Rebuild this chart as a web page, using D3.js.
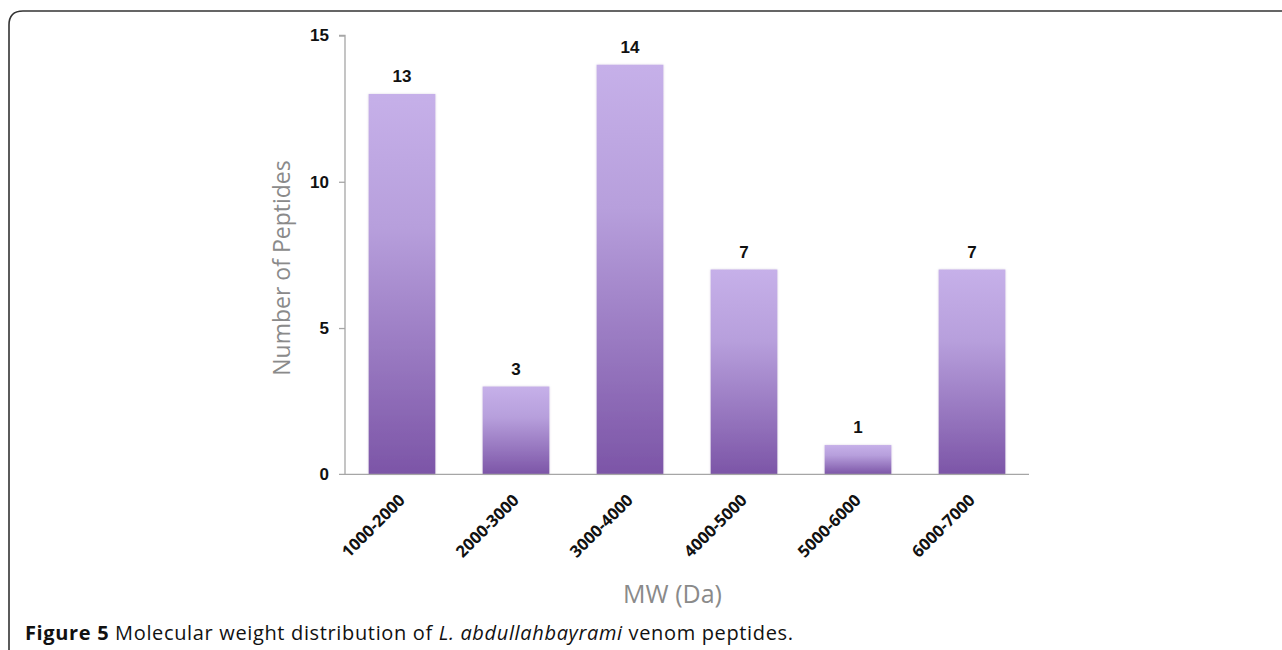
<!DOCTYPE html>
<html>
<head>
<meta charset="utf-8">
<script src="https://cdn.jsdelivr.net/npm/d3@7"></script>
<style>
  html, body { margin: 0; padding: 0; background: #fff; }
  svg { display: block; }
</style>
</head>
<body>
<svg id="chart" width="1282" height="650"></svg>
<script>
const categories = ["1000-2000", "2000-3000", "3000-4000", "4000-5000", "5000-6000", "6000-7000"];
const peptideCounts = [13, 3, 14, 7, 1, 7];
const yTicks = [0, 5, 10, 15];
const yTitle = "Number of Peptides";
const xTitle = "MW (Da)";

const svg = d3.select("#chart");

// Figure frame (rounded corner, open on right and bottom)
svg.append("path")
  .attr("d", "M9,660 L9,25 Q9,11 23,11 L1300,11")
  .attr("fill", "none")
  .attr("stroke", "#333")
  .attr("stroke-width", 1.6);

const plotLeft = 345, plotRight = 1029, plotTop = 35.5;
const y0 = 474.3;

const x = d3.scaleBand().domain(categories).range([plotLeft, plotRight]).paddingInner(0.415).paddingOuter(0.2075);
const y = d3.scaleLinear().domain([0, 15]).range([y0, plotTop]);

// gradient
const defs = svg.append("defs");
const grad = defs.append("linearGradient")
  .attr("id", "barGrad").attr("x1", 0).attr("y1", 0).attr("x2", 0).attr("y2", 1);
grad.append("stop").attr("offset", "0%").attr("stop-color", "#c6b0e9");
grad.append("stop").attr("offset", "35%").attr("stop-color", "#b79fdc");
grad.append("stop").attr("offset", "100%").attr("stop-color", "#7c55a7");

const shadow = defs.append("filter").attr("id", "glow").attr("x", "-10%").attr("y", "-10%").attr("width", "120%").attr("height", "120%");
shadow.append("feGaussianBlur").attr("in", "SourceAlpha").attr("stdDeviation", 1.2).attr("result", "b");
shadow.append("feFlood").attr("flood-color", "#b8a8c8").attr("flood-opacity", 0.5);
shadow.append("feComposite").attr("in2", "b").attr("operator", "in").attr("result", "s");
const fm = shadow.append("feMerge");
fm.append("feMergeNode").attr("in", "s");
fm.append("feMergeNode").attr("in", "SourceGraphic");

// bars
svg.append("g").selectAll("rect")
  .data(categories)
  .join("rect")
  .attr("x", d => x(d))
  .attr("width", x.bandwidth())
  .attr("y", (d, i) => y(peptideCounts[i]))
  .attr("height", (d, i) => y0 - y(peptideCounts[i]))
  .attr("fill", "url(#barGrad)")
  .attr("filter", "url(#glow)");

// value labels
svg.append("g").selectAll("text")
  .data(categories)
  .join("text")
  .attr("x", d => x(d) + x.bandwidth() / 2)
  .attr("y", (d, i) => y(peptideCounts[i]) - 12)
  .attr("text-anchor", "middle")
  .attr("font-family", "Liberation Sans, Arial, sans-serif")
  .attr("font-weight", "bold")
  .attr("font-size", 17)
  .attr("fill", "#111")
  .text((d, i) => peptideCounts[i]);

// y axis
const yAxis = d3.axisLeft(y).tickValues(yTicks).tickSize(6).tickPadding(10).tickFormat(d3.format("d"));
const gy = svg.append("g").attr("transform", `translate(${plotLeft},0)`).call(yAxis);
gy.select(".domain").attr("stroke", "#a6a6a6").attr("stroke-width", 1.3).attr("d", `M-6,${y(15)}H0V${y0}`);
gy.selectAll(".tick line").attr("stroke", "#a6a6a6").attr("stroke-width", 1.3);
gy.selectAll(".tick text")
  .attr("font-family", "Liberation Sans, Arial, sans-serif")
  .attr("font-weight", "bold")
  .attr("font-size", 17)
  .attr("fill", "#111");
gy.selectAll(".tick").filter(d => d === 0).select("line").remove();

// x axis
const xAxis = d3.axisBottom(x).tickSize(0).tickPadding(0);
const gx = svg.append("g").attr("transform", `translate(0,${y0})`).call(xAxis);
gx.select(".domain").attr("stroke", "#a6a6a6").attr("stroke-width", 1.3).attr("d", `M${plotLeft - 6},0H${plotRight}`);
gx.selectAll(".tick text")
  .attr("font-family", "Open Sans, sans-serif")
  .attr("font-weight", "bold")
  .attr("font-size", 16.5)
  .attr("fill", "#111")
  .attr("text-anchor", "end")
  .attr("dy", null)
  .attr("y", 0)
  .attr("transform", "translate(4,27) rotate(-45)");

// axis titles
svg.append("text")
  .attr("transform", `translate(290,268) rotate(-90)`)
  .attr("text-anchor", "middle")
  .attr("font-family", "Open Sans, sans-serif")
  .attr("font-size", 23)
  .attr("fill", "#8a8a8a")
  .text(yTitle);

svg.append("text")
  .attr("x", 672.5)
  .attr("y", 603)
  .attr("text-anchor", "middle")
  .attr("font-family", "Open Sans, sans-serif")
  .attr("font-size", 25)
  .attr("fill", "#8a8a8a")
  .text(xTitle);

// caption
const cap = svg.append("text")
  .attr("x", 25)
  .attr("y", 640)
  .attr("font-family", "Open Sans, sans-serif")
  .attr("font-size", 20)
  .attr("textLength", 768)
  .attr("lengthAdjust", "spacing")
  .attr("fill", "#111");
cap.append("tspan").attr("font-weight", "bold").text("Figure 5");
cap.append("tspan").text(" Molecular weight distribution of ");
cap.append("tspan").attr("font-style", "italic").text("L. abdullahbayrami");
cap.append("tspan").text(" venom peptides.");
</script>
</body>
</html>
